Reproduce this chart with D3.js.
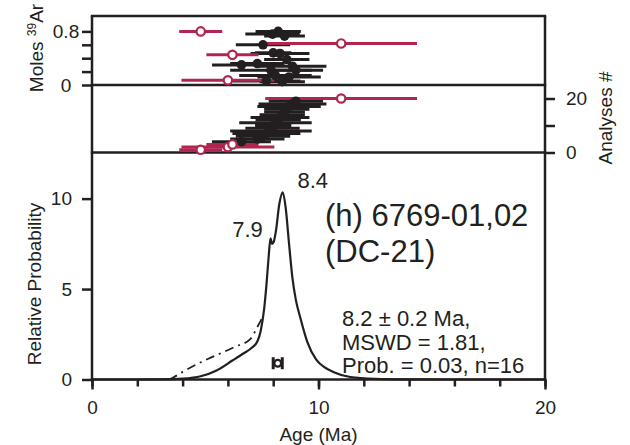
<!DOCTYPE html>
<html>
<head>
<meta charset="utf-8">
<script src="https://cdn.jsdelivr.net/npm/d3@7"></script>
<style>
  html, body { margin: 0; padding: 0; background: #fff; }
  svg { display: block; font-family: "Liberation Sans", Arial, Helvetica, sans-serif; }
</style>
</head>
<body>
<div id="chart"></div>
<script>
// 被剔除的分析 (空心红圈)
const rejectedAges = [4.8, 6.0, 6.2, 11.0];
const rejectedErrors = [0.95, 2.05, 1.15, 3.35];
const rejectedMoles = [0.80, 0.07, 0.45, 0.62];

// 参与计算的分析 (实心黑点)
const acceptedAges = [8.22, 7.97, 8.5, 7.55, 8.0, 8.3, 6.6, 7.3, 8.6, 8.85, 7.9, 9.0, 8.1, 8.7, 7.7, 8.4];
const acceptedErrors = [1.0, 1.2, 0.9, 1.2, 0.8, 1.3, 1.3, 1.2, 1.0, 1.5, 1.8, 1.2, 1.6, 1.4, 1.5, 1.0];
const acceptedMoles = [0.80, 0.76, 0.73, 0.60, 0.48, 0.47, 0.30, 0.32, 0.38, 0.28, 0.22, 0.22, 0.14, 0.12, 0.06, 0.05];

// 概率密度曲线 (实线)
const curveAges = [0, 2, 3, 4, 4.8, 5.5, 6.2, 6.7, 7.0, 7.3, 7.45, 7.6, 7.7, 7.8, 7.88, 7.95, 8.02, 8.12, 8.27, 8.42,
                   8.55, 8.7, 8.85, 9.0, 9.2, 9.5, 9.9, 10.3, 10.65, 11.4, 12.5, 14, 16, 20];
const curveProbs = [0, 0, 0.01, 0.05, 0.18, 0.5, 1.05, 1.45, 1.7, 2.1, 2.7, 3.9, 5.2, 6.8, 7.8, 7.5, 7.6, 8.2, 9.7, 10.35,
                    9.5, 7.5, 5.6, 4.4, 3.4, 2.1, 1.1, 0.65, 0.42, 0.14, 0.04, 0.01, 0, 0];

// 含剔除数据的曲线 (虚线)
const dashedAges = [3.4, 3.6, 4.0, 4.8, 5.5, 6.3, 7.0, 7.3, 7.55];
const dashedProbs = [0, 0.12, 0.42, 0.95, 1.35, 1.8, 2.25, 2.9, 3.5];

// 加权平均
const meanAge = 8.2;
const meanError = 0.2;
const meanMarkerProb = 0.9;

// 峰值标注
const peakNames = ["8.4", "7.9"];
const peakAges = [8.42, 7.88];
const peakProbs = [10.35, 7.8];

// 刻度
const ageMinorTicks = [0, 2, 4, 6, 8, 10, 12, 14, 16, 18, 20];
const ageMajorTicks = [0, 10, 20];
const moleTicks = [0, 0.2, 0.4, 0.6, 0.8];
const moleLabelTicks = [0, 0.8];
const analysesTicks = [0, 10, 20];
const analysesLabelTicks = [0, 20];
const probTicks = [0, 5, 10];

const statsLines = ["8.2 \u00b1 0.2 Ma,", "MSWD = 1.81,", "Prob. = 0.03, n=16"];

function drawChart() {
    const W = 630, H = 445;
    const left = 92, right = 545;
    const topY = 16, sep1 = 85, sep2 = 152.5, bottomY = 379.5;
    const ink = "#231f20";
    const red = "#b0264f";

    const svg = d3.select("#chart").append("svg")
        .attr("width", W).attr("height", H);
    svg.append("rect").attr("width", W).attr("height", H).attr("fill", "#fff");

    // 比例尺
    const x = d3.scaleLinear().domain([0, 20]).range([left, right]);
    const yMoles = d3.scaleLinear().domain([0, 1.03]).range([sep1, topY]);
    const yRank = d3.scaleLinear().domain([0, 25]).range([sep2, sep1]);
    const yProb = d3.scaleLinear().domain([0, 12.55]).range([bottomY, sep2]);

    // 数据整理
    const all = [];
    rejectedAges.forEach((a, i) => all.push({ age: a, err: rejectedErrors[i], moles: rejectedMoles[i], ok: false }));
    acceptedAges.forEach((a, i) => all.push({ age: a, err: acceptedErrors[i], moles: acceptedMoles[i], ok: true }));
    const sorted = all.slice().sort((a, b) => a.age - b.age);
    sorted.forEach((d, i) => d.rank = i + 1);

    // 坐标轴
    function styleAxis(g) {
        g.select(".domain").remove();
        g.selectAll(".tick line").attr("stroke", ink).attr("stroke-width", 2.5);
        g.selectAll(".tick text").attr("fill", ink).style("font-size", "19px")
            .style("font-family", "'Liberation Sans', Arial, sans-serif");
    }

    const molesAxis = svg.append("g")
        .attr("transform", `translate(${left},0)`)
        .call(d3.axisLeft(yMoles).tickValues(moleTicks).tickSize(10).tickPadding(5)
            .tickFormat(d => moleLabelTicks.includes(d) ? String(d) : ""))
        .call(styleAxis);
    molesAxis.selectAll(".tick text").attr("text-anchor", "middle").attr("x", -26);

    svg.append("g")
        .attr("transform", `translate(${right},0)`)
        .call(d3.axisRight(yRank).tickValues(analysesTicks).tickSize(10).tickPadding(11)
            .tickFormat(d => analysesLabelTicks.includes(d) ? String(d) : ""))
        .call(styleAxis);

    svg.append("g")
        .attr("transform", `translate(${left},0)`)
        .call(d3.axisLeft(yProb).tickValues(probTicks).tickSize(10).tickPadding(10))
        .call(styleAxis);

    svg.append("g")
        .attr("transform", `translate(0,${bottomY})`)
        .call(d3.axisBottom(x).tickValues(ageMinorTicks).tickSize(7).tickFormat(""))
        .call(styleAxis);

    svg.append("g")
        .attr("transform", `translate(0,${bottomY})`)
        .call(d3.axisBottom(x).tickValues(ageMajorTicks).tickSize(10).tickPadding(11))
        .call(styleAxis);

    // 边框与分隔线
    const frame = svg.append("g").attr("stroke", ink).attr("stroke-width", 2.5).attr("fill", "none");
    [topY, sep1, sep2, bottomY].forEach(yy => {
        frame.append("line").attr("x1", left - 1.2).attr("x2", right + 1.2).attr("y1", yy).attr("y2", yy);
    });
    frame.append("line").attr("x1", left).attr("x2", left).attr("y1", topY).attr("y2", bottomY);
    frame.append("line").attr("x1", right).attr("x2", right).attr("y1", topY).attr("y2", bottomY);

    // 误差棒 + 点
    function drawPanel(yFn) {
        const g = svg.append("g");
        const acc = all.filter(d => d.ok), rej = all.filter(d => !d.ok);
        g.selectAll(".bar-a").data(acc).enter().append("line")
            .attr("x1", d => x(d.age - d.err)).attr("x2", d => x(d.age + d.err))
            .attr("y1", yFn).attr("y2", yFn)
            .attr("stroke", ink).attr("stroke-width", 3);
        g.selectAll(".bar-r").data(rej).enter().append("line")
            .attr("x1", d => x(d.age - d.err)).attr("x2", d => x(d.age + d.err))
            .attr("y1", yFn).attr("y2", yFn)
            .attr("stroke", red).attr("stroke-width", 3);
        g.selectAll(".dot-a").data(acc).enter().append("circle")
            .attr("cx", d => x(d.age)).attr("cy", yFn).attr("r", 4.8)
            .attr("fill", ink);
        g.selectAll(".dot-r").data(rej).enter().append("circle")
            .attr("cx", d => x(d.age)).attr("cy", yFn).attr("r", 4.2)
            .attr("fill", "#fff").attr("stroke", red).attr("stroke-width", 2.2);
    }
    drawPanel(d => yMoles(d.moles));
    drawPanel(d => yRank(d.rank));

    // 概率曲线
    const line = d3.line().x(d => x(d[0])).y(d => yProb(d[1])).curve(d3.curveMonotoneX);
    svg.append("path")
        .datum(dashedAges.map((a, i) => [a, dashedProbs[i]]))
        .attr("d", line).attr("fill", "none").attr("stroke", ink)
        .attr("stroke-width", 1.8).attr("stroke-dasharray", "9,5,2,5");
    svg.append("path")
        .datum(curveAges.map((a, i) => [a, curveProbs[i]]))
        .attr("d", line).attr("fill", "none").attr("stroke", ink)
        .attr("stroke-width", 2.2).attr("stroke-linejoin", "round");

    // 加权平均标记
    const my = yProb(meanMarkerProb);
    const mk = svg.append("g").attr("stroke", ink);
    mk.append("line").attr("x1", x(meanAge - meanError)).attr("x2", x(meanAge + meanError))
        .attr("y1", my).attr("y2", my).attr("stroke-width", 3);
    [meanAge - meanError, meanAge + meanError].forEach(a => {
        mk.append("line").attr("x1", x(a)).attr("x2", x(a))
            .attr("y1", my - 6).attr("y2", my + 6).attr("stroke-width", 3);
    });
    mk.append("circle").attr("cx", x(meanAge)).attr("cy", my).attr("r", 3.4)
        .attr("fill", "#fff").attr("stroke-width", 2.2);

    // 峰值标注
    const peakDx = [30, -23], peakDy = [-4, -1];
    peakNames.forEach((t, i) => {
        svg.append("text")
            .attr("x", x(peakAges[i]) + peakDx[i]).attr("y", yProb(peakProbs[i]) + peakDy[i])
            .attr("text-anchor", "middle").attr("fill", ink)
            .style("font-size", "22px").text(t);
    });

    // 样品名称
    svg.append("text").attr("x", 325).attr("y", 226).attr("fill", ink)
        .style("font-size", "31px").text("(h) 6769-01,02");
    svg.append("text").attr("x", 325).attr("y", 262).attr("fill", ink)
        .style("font-size", "31px").text("(DC-21)");

    // 统计信息
    statsLines.forEach((t, i) => {
        svg.append("text").attr("x", 342).attr("y", 326 + i * 23.5).attr("fill", ink)
            .style("font-size", "22px").text(t);
    });

    // 轴标题
    svg.append("text").attr("transform", "translate(41,284) rotate(-90)")
        .attr("text-anchor", "middle").attr("fill", ink).style("font-size", "19px")
        .text("Relative Probability");
    svg.append("text").attr("x", 318.5).attr("y", 441)
        .attr("text-anchor", "middle").attr("fill", ink).style("font-size", "19px")
        .text("Age (Ma)");
    const moles = svg.append("text").attr("transform", "translate(43,48) rotate(-90)")
        .attr("text-anchor", "middle").attr("fill", ink).style("font-size", "19px");
    moles.append("tspan").text("Moles ");
    moles.append("tspan").attr("dy", -7).style("font-size", "12px").text("39");
    moles.append("tspan").attr("dy", 7).text("Ar");
    svg.append("text").attr("transform", "translate(612,118) rotate(-90)")
        .attr("text-anchor", "middle").attr("fill", ink).style("font-size", "19px")
        .text("Analyses #");
}

document.addEventListener('DOMContentLoaded', drawChart);
</script>
</body>
</html>
